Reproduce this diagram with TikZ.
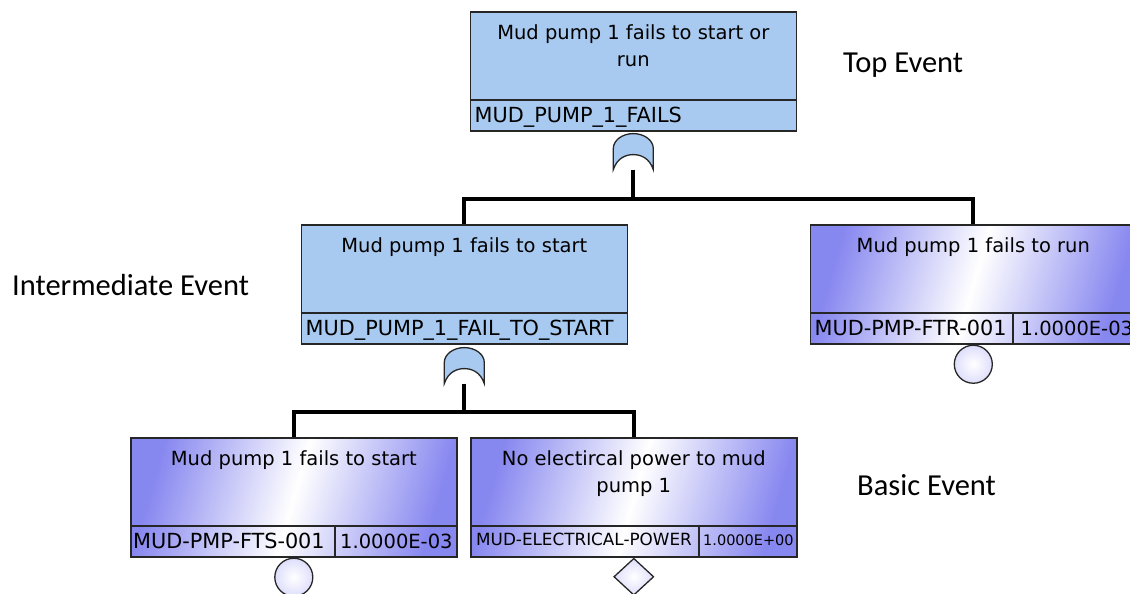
\documentclass[tikz,border=0pt]{standalone}
\usepackage{fontspec}
\setmainfont{DejaVu Sans}
\newfontfamily\lblfont{Carlito}
\usetikzlibrary{positioning,shapes.geometric}
\definecolor{gateblue}{RGB}{168,202,240}
\definecolor{basicblue}{RGB}{135,135,240}
\definecolor{basiclight}{RGB}{222,222,252}
\tikzset{
  evt/.style={draw=black!85, line width=1.6pt, minimum width=326pt, minimum height=119pt, inner sep=0pt, anchor=north west},
  gatev/.style={evt, fill=gateblue},
  basev/.style={evt, left color=basicblue, right color=basicblue, middle color=white, shading angle=74},
  desc/.style={font=\fontsize{19.5}{27}\selectfont, align=center, inner sep=0pt},
  idt/.style={font=\fontsize{20.8}{24}\selectfont, anchor=base west, inner sep=0pt},
  val/.style={idt, font=\fontsize{19.5}{24}\selectfont},
  idsm/.style={font=\fontsize{16.8}{20}\selectfont, anchor=base west, inner sep=0pt},
  sep/.style={draw=black!85, line width=1.3pt},
  tree/.style={line width=3.8pt},
  bas/.style={circle, draw=black!85, line width=1.3pt, minimum size=38pt, inner sep=0pt, inner color=white, outer color=basiclight},
  und/.style={diamond, draw=black!85, line width=1.3pt, minimum width=40pt, minimum height=37pt, inner sep=0pt, inner color=white, outer color=basiclight},
  tag/.style={font=\lblfont\fontsize{30.5}{36}\selectfont, anchor=base west, inner sep=0pt},
  orgate/.pic={
    \draw[draw=black!85, line width=1.3pt, fill=gateblue] (-20,0) -- (-20,21)
      arc[start angle=180, end angle=0, x radius=20pt, y radius=15pt] -- (20,0)
      .. controls (16,12) and (7,15) .. (0,15) .. controls (-7,15) and (-16,12) .. (-20,0) -- cycle;
    \coordinate (-in) at (0,0);
  }
}
\begin{document}
\begin{tikzpicture}[x=1pt,y=1pt]
\useasboundingbox (0,0) rectangle (1130,-594);
% top event
\node[gatev] (top) at (469.5,-11) {};
\node[desc, below=13pt of top.north] (top-d) {Mud pump 1 fails to start or\\ run};
\draw[sep] ([yshift=31.5pt]top.south west) -- ([yshift=31.5pt]top.south east);
\node[idt] (top-id) at ([xshift=5pt, yshift=9.5pt]top.south west) {MUD\_PUMP\_1\_FAILS};
\pic (g1) at ([yshift=-38pt]top.south) {orgate};
% intermediate event
\node[gatev] (mid) at (300.5,-224) {};
\node[desc, below=13pt of mid.north] (mid-d) {Mud pump 1 fails to start};
\draw[sep] ([yshift=31.5pt]mid.south west) -- ([yshift=31.5pt]mid.south east);
\node[idt] (mid-id) at ([xshift=5pt, yshift=9.5pt]mid.south west) {MUD\_PUMP\_1\_FAIL\_TO\_START};
\pic (g2) at ([yshift=-39pt]mid.south) {orgate};
% basic events
\node[basev] (run) at (809.5,-224) {};
\node[desc, below=13pt of run.north] (run-d) {Mud pump 1 fails to run};
\draw[sep] ([yshift=31.5pt]run.south west) -- ([yshift=31.5pt]run.south east);
\draw[sep] ([xshift=203.5pt]run.south west) -- ++(0,31.5);
\node[idt] (run-id) at ([xshift=5pt, yshift=9.5pt]run.south west) {MUD-PMP-FTR-001};
\node[val] (run-p) at ([xshift=211pt, yshift=9.5pt]run.south west) {1.0000E-03};
\node[bas, below=0pt of run] (run-c) {};
\node[basev] (fts) at (130,-437) {};
\node[desc, below=13pt of fts.north] (fts-d) {Mud pump 1 fails to start};
\draw[sep] ([yshift=31.5pt]fts.south west) -- ([yshift=31.5pt]fts.south east);
\draw[sep] ([xshift=205pt]fts.south west) -- ++(0,31.5);
\node[idt] (fts-id) at ([xshift=3pt, yshift=9.5pt]fts.south west) {MUD-PMP-FTS-001};
\node[val] (fts-p) at ([xshift=210pt, yshift=9.5pt]fts.south west) {1.0000E-03};
\node[bas, below=0pt of fts] (fts-c) {};
\node[basev] (pwr) at (470,-437) {};
\node[desc, below=13pt of pwr.north] (pwr-d) {No electircal power to mud\\ pump 1};
\draw[sep] ([yshift=31.5pt]pwr.south west) -- ([yshift=31.5pt]pwr.south east);
\draw[sep] ([xshift=229pt]pwr.south west) -- ++(0,31.5);
\node[idsm] (pwr-id) at ([xshift=6pt, yshift=12pt]pwr.south west) {MUD-ELECTRICAL-POWER};
\node[idsm, font=\fontsize{14.5}{18}\selectfont] (pwr-p) at ([xshift=233pt, yshift=12pt]pwr.south west) {1.0000E+00};
\node[und, below=0pt of pwr] (pwr-c) {};
% tree
\draw[tree] (g1-in) -- ++(0,-29) -| (mid.north);
\draw[tree] (g1-in) -- ++(0,-29) -| (run.north);
\draw[tree] (g2-in) -- ++(0,-28) -| (fts.north);
\draw[tree] (g2-in) -- ++(0,-28) -| (pwr.north);
% level labels
\node[tag] (lbl-top) at (843,-73) {Top Event};
\node[tag] (lbl-mid) at (12,-295) {Intermediate Event};
\node[tag] (lbl-bas) at (857,-495) {Basic Event};
\end{tikzpicture}
\end{document}
